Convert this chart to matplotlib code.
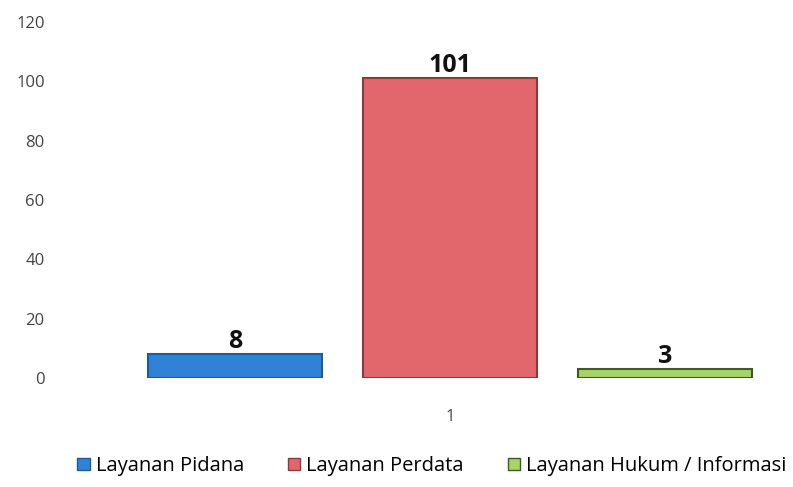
import matplotlib
matplotlib.use("Agg")
import matplotlib.pyplot as plt
from matplotlib.patches import Patch

categories = ["1"]
series_names = ["Layanan Pidana", "Layanan Perdata", "Layanan Hukum / Informasi"]
series_values = [8, 101, 3]
face_colors = ["#2f82d6", "#e2676c", "#a6d466"]
edge_colors = ["#1d5a9e", "#8a3a3e", "#3e5a22"]
yticks = [0, 20, 40, 60, 80, 100, 120]

fig = plt.figure(figsize=(7.93, 4.87), dpi=100)
ax = fig.add_axes([60/793, (487-378)/487, 730/793, (378-22)/487])

offsets = [-1, 0, 1]
width = 0.81
for off, v, fc, ec, name in zip(offsets, series_values, face_colors, edge_colors, series_names):
    ax.bar(off, v, width=width, color=fc, edgecolor=ec, linewidth=1.5, label=name, zorder=3)
    ax.text(off, v, str(v), ha="center", va="bottom", fontsize=18,
            fontweight="bold", color="#111111", family="Open Sans", zorder=4)

ax.set_xlim((60-450)/215, (790-450)/215)
ax.set_ylim(0, 120)
ax.set_yticks(yticks)
ax.set_yticklabels([str(t) for t in yticks], fontsize=12, color="#444444", family="Open Sans")
ax.set_xticks([0])
ax.set_xticklabels(categories, fontsize=12, color="#444444", family="Open Sans")
ax.tick_params(axis="both", length=0)
ax.tick_params(axis="y", pad=11)
ax.tick_params(axis="x", pad=22)
for s in ax.spines.values():
    s.set_visible(False)

handles = [Patch(facecolor=fc, edgecolor=ec) for fc, ec in zip(face_colors, edge_colors)]
fig.legend(handles, series_names, loc="center", bbox_to_anchor=(432/793, (487-466)/487),
           ncol=3, frameon=False, handlelength=0.6, handleheight=0.6,
           handletextpad=0.3, columnspacing=2.2, prop={"family": "Open Sans", "size": 14.5})

fig.savefig("out.png", dpi=100, facecolor="white")
